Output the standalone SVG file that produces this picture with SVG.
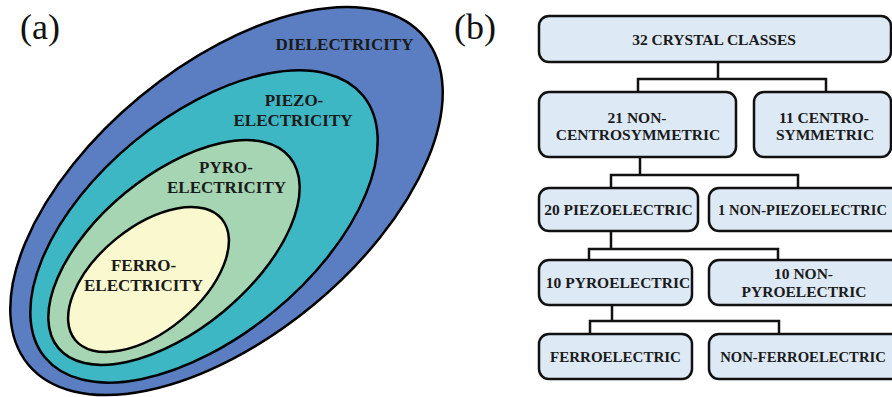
<svg xmlns="http://www.w3.org/2000/svg" width="892" height="397" viewBox="0 0 892 397">
<style>
.lbl{font-family:"Liberation Serif","Times New Roman",serif;font-size:36px;fill:#111}
.et{font-family:"Liberation Serif","Times New Roman",serif;font-size:17px;font-weight:bold;fill:#1a1a1a;text-anchor:middle}
.ell{stroke:#000;stroke-width:2.5}
.box{fill:#DDE9F5;stroke:#111;stroke-width:2.5}
.bt{font-family:"Liberation Serif","Times New Roman",serif;font-size:15.5px;font-weight:bold;fill:#1a1a1a;text-anchor:middle}
.con{fill:none;stroke:#111;stroke-width:2.5}
</style>
<rect width="892" height="397" fill="#fff"/>
<text class="lbl" x="20" y="39">(a)</text>
<text class="lbl" x="454" y="39">(b)</text>

<g id="dielectricity">
<ellipse class="ell" cx="226.5" cy="201" rx="257" ry="135.5" fill="#5A7EC1" transform="rotate(-39.5 226.5 201)"/>
<text class="et" x="344.5" y="50">DIELECTRICITY</text>
</g>
<g id="piezoelectricity">
<ellipse class="ell" cx="204" cy="226.5" rx="206" ry="110" fill="#3DB7C4" transform="rotate(-39.5 204 226.5)"/>
<text class="et" x="294" y="106">PIEZO-</text>
<text class="et" x="293" y="126">ELECTRICITY</text>
</g>
<g id="pyroelectricity">
<ellipse class="ell" cx="174" cy="252.5" rx="150" ry="77" fill="#A5D5B3" transform="rotate(-39.5 174 252.5)"/>
<text class="et" x="226" y="173">PYRO-</text>
<text class="et" x="226.5" y="193">ELECTRICITY</text>
</g>
<g id="ferroelectricity">
<ellipse class="ell" cx="148.5" cy="279.5" rx="95" ry="52" fill="#FAF8CF" transform="rotate(-39.5 148.5 279.5)"/>
<text class="et" x="143.5" y="271">FERRO-</text>
<text class="et" x="143.5" y="291">ELECTRICITY</text>
</g>

<g id="connectors">
<path class="con" d="M718 62V79M638 92V79H826V92"/>
<path class="con" d="M640 157V175M611 188V175H798V188"/>
<path class="con" d="M611 231V249M589 260V249H778V260"/>
<path class="con" d="M612 305V321M590 334V321H779V334"/>
</g>

<g id="crystal-classes">
<rect class="box" x="539" y="16" width="352" height="46" rx="10"/>
<text class="bt" x="714" y="45">32 CRYSTAL CLASSES</text>
</g>
<g id="non-centrosymmetric">
<rect class="box" x="539" y="92" width="197" height="65" rx="10"/>
<text class="bt" x="637" y="123">21 NON-</text>
<text class="bt" x="638" y="140">CENTROSYMMETRIC</text>
</g>
<g id="centrosymmetric">
<rect class="box" x="754" y="92" width="137" height="65" rx="10"/>
<text class="bt" x="824" y="123">11 CENTRO-</text>
<text class="bt" x="825" y="140">SYMMETRIC</text>
</g>
<g id="piezoelectric">
<rect class="box" x="539" y="188" width="159" height="43" rx="10"/>
<text class="bt" x="618.5" y="214.5">20 PIEZOELECTRIC</text>
</g>
<g id="non-piezoelectric">
<rect class="box" x="709" y="188" width="200" height="43" rx="10"/>
<text class="bt" x="802.5" y="214.5" style="font-size:14.5px">1 NON-PIEZOELECTRIC</text>
</g>
<g id="pyroelectric">
<rect class="box" x="539" y="260" width="153" height="45" rx="10"/>
<text class="bt" x="618" y="288">10 PYROELECTRIC</text>
</g>
<g id="non-pyroelectric">
<rect class="box" x="709" y="260" width="200" height="45" rx="10"/>
<text class="bt" x="803.5" y="279">10 NON-</text>
<text class="bt" x="804" y="297">PYROELECTRIC</text>
</g>
<g id="ferroelectric">
<rect class="box" x="539" y="334" width="153" height="45" rx="10"/>
<text class="bt" x="615.5" y="362" style="font-size:15px">FERROELECTRIC</text>
</g>
<g id="non-ferroelectric">
<rect class="box" x="709" y="334" width="200" height="45" rx="10"/>
<text class="bt" x="803" y="362" style="font-size:14.7px">NON-FERROELECTRIC</text>
</g>
</svg>
